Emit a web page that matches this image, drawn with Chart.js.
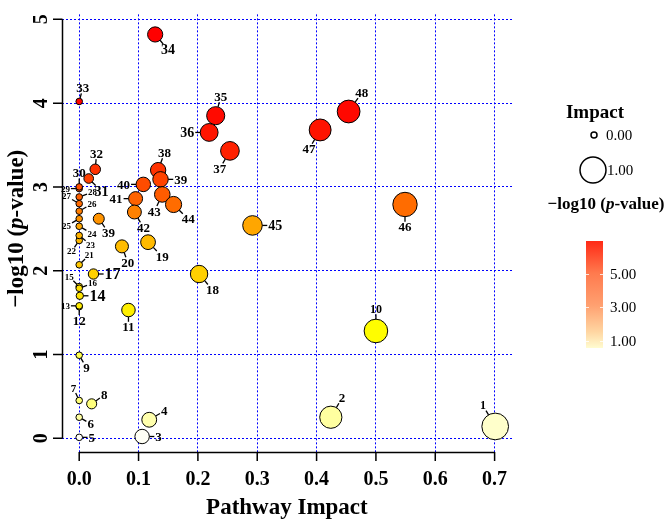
<!DOCTYPE html>
<html>
<head>
<meta charset="utf-8">
<script src="https://cdn.jsdelivr.net/npm/chart.js@4.4.1/dist/chart.umd.min.js"></script>
<style>
  html, body { margin: 0; padding: 0; background: #fff; }
</style>
</head>
<body>
<canvas id="myChart" width="664" height="521"></canvas>
<script>
// pathway labels, impact (x) and -log10 p (y)
const pathwayLabels = ['1','2','3','4','5','6','7','8','9','10','11','12','13','14','15','16','17','18','19','20',
  '21','22','23','24','25','26','27','28','29','30','31','32','33','34','35','36','37','38','39','39',
  '40','41','42','43','44','45','46','47','48'];
const impact = [0.701, 0.424, 0.106, 0.118, 0.000, 0.000, 0.000, 0.021, 0.000, 0.500,
  0.083, 0.000, 0.000, 0.001, 0.000, 0.000, 0.024, 0.202, 0.116, 0.072,
  0.000, 0.000, 0.000, 0.000, 0.000, 0.000, 0.000, 0.000, 0.000, 0.000,
  0.016, 0.027, 0.000, 0.128, 0.230, 0.219, 0.254, 0.133, 0.137, 0.033,
  0.108, 0.095, 0.093, 0.140, 0.159, 0.292, 0.549, 0.406, 0.454];
const logP = [0.14, 0.25, 0.02, 0.22, 0.01, 0.25, 0.45, 0.41, 0.99, 1.28,
  1.53, 1.57, 1.58, 1.70, 1.81, 1.79, 1.96, 1.96, 2.34, 2.29,
  2.07, 2.36, 2.42, 2.53, 2.62, 2.71, 2.80, 2.88, 2.98, 3.00,
  3.10, 3.21, 4.02, 4.82, 3.85, 3.65, 3.43, 3.20, 3.09, 2.62,
  3.03, 2.86, 2.70, 2.91, 2.79, 2.54, 2.79, 3.68, 3.90];
const xTicks = [0, 0.1, 0.2, 0.3, 0.4, 0.5, 0.6, 0.7];
const yTicks = [0, 1, 2, 3, 4, 5];
const colorBarTicks = [1, 3, 5];
const sizeLegend = [0, 1];

// where each label sits around its bubble (degrees, 0 = right, 90 = down)
const labelAngle = [-120, -60, 0, -30, 0, 30, -115, -35, 60, -90,
  90, 90, 180, 0, -135, -20, 0, 50, 45, 70,
  -45, 125, 40, 30, 150, -30, -150, -20, 180, -90,
  45, -85, -75, 50, -75, 180, 120, -70, 0, 55,
  180, 180, 60, 115, 45, 0, 90, 120, -55];
const smallLabels = ['13','15','16','21','22','23','24','25','26','27','28','29'];
const bigLabels = { '14': 16, '17': 16, '31': 14, '34': 14, '36': 14, '45': 14, '1': 12, '7': 11, '10': 12 };

const SERIF = '"Liberation Serif", "Times New Roman", serif';

// colour by -log10 p (heat style)
const heatStops = [
  [0.00, [255, 255, 252]], [0.15, [255, 255, 200]], [0.30, [255, 255, 140]], [0.50, [255, 255, 110]],
  [1.00, [255, 255, 80]], [1.25, [255, 255, 0]], [1.55, [255, 238, 0]], [1.80, [255, 222, 0]],
  [2.00, [255, 204, 0]], [2.35, [255, 185, 0]], [2.55, [255, 165, 0]], [2.65, [255, 140, 0]],
  [2.80, [255, 106, 0]], [3.00, [255, 80, 0]], [3.20, [255, 50, 0]], [3.50, [255, 28, 0]],
  [3.90, [255, 8, 0]], [4.20, [255, 0, 0]]
];
function heat(v) {
  if (v <= heatStops[0][0]) return `rgb(${heatStops[0][1].join(',')})`;
  for (let i = 1; i < heatStops.length; i++) {
    const [v1, c1] = heatStops[i];
    const [v0, c0] = heatStops[i - 1];
    if (v <= v1) {
      const t = (v - v0) / (v1 - v0);
      const c = c0.map((a, k) => Math.round(a + (c1[k] - a) * t));
      return `rgb(${c.join(',')})`;
    }
  }
  return 'rgb(255,0,0)';
}
// radius by impact
const sizeOf = (v) => 3.3 + 12 * Math.sqrt(v);

// draw runs of text with mixed fonts, centred on (0,0) of the current transform
function mixedText(ctx, runs, x, y) {
  let total = 0;
  runs.forEach(r => { ctx.font = r.font; total += ctx.measureText(r.text).width; });
  let cur = x - total / 2;
  ctx.textAlign = 'left';
  runs.forEach(r => { ctx.font = r.font; ctx.fillText(r.text, cur, y); cur += ctx.measureText(r.text).width; });
}
const titleRuns = (size) => [
  { text: '\u2212log10 (', font: `bold ${size}px ${SERIF}` },
  { text: 'p', font: `italic bold ${size}px ${SERIF}` },
  { text: '-value)', font: `bold ${size}px ${SERIF}` }
];

const decorations = {
  id: 'decorations',
  afterDatasetsDraw(chart) {
    const { ctx, scales: { x, y } } = chart;
    const meta = chart.getDatasetMeta(0);
    ctx.save();
    ctx.strokeStyle = '#000';
    ctx.fillStyle = '#000';
    ctx.lineWidth = 1.3;
    meta.data.forEach((pt, i) => {
      const txt = pathwayLabels[i];
      const size = smallLabels.includes(txt) ? 9 : (bigLabels[txt] || 13);
      const r = sizeOf(impact[i]);
      const a = labelAngle[i] * Math.PI / 180;
      const ux = Math.cos(a), uy = Math.sin(a);
      const x1 = pt.x + ux * r, y1 = pt.y + uy * r;
      const x2 = pt.x + ux * (r + 5), y2 = pt.y + uy * (r + 5);
      ctx.beginPath(); ctx.moveTo(x1, y1); ctx.lineTo(x2, y2); ctx.stroke();
      ctx.font = `bold ${size}px ${SERIF}`;
      const hw = ctx.measureText(txt).width / 2 + 1, hh = size * 0.34 + 1;
      const t = 1 / Math.max(Math.abs(ux) / hw, Math.abs(uy) / hh);
      ctx.textAlign = 'center';
      ctx.textBaseline = 'alphabetic';
      ctx.fillText(txt, x2 + ux * t, y2 + uy * t + size * 0.33);
    });
    ctx.restore();
  },
  afterDraw(chart) {
    const { ctx, scales: { x, y } } = chart;
    const bottom = chart.chartArea.bottom;
    const left = chart.chartArea.left;
    ctx.save();
    ctx.strokeStyle = '#000';
    ctx.fillStyle = '#000';
    ctx.lineWidth = 1.5;

    // y axis
    ctx.beginPath();
    ctx.moveTo(left + 0.5, y.getPixelForValue(yTicks[0]));
    ctx.lineTo(left + 0.5, y.getPixelForValue(yTicks[yTicks.length - 1]));
    yTicks.forEach(v => {
      const py = y.getPixelForValue(v);
      ctx.moveTo(left - 9, py); ctx.lineTo(left + 0.5, py);
    });
    ctx.stroke();
    ctx.font = `bold 20px ${SERIF}`;
    ctx.textAlign = 'center';
    ctx.textBaseline = 'middle';
    yTicks.forEach(v => {
      ctx.save();
      ctx.translate(41, y.getPixelForValue(v));
      ctx.rotate(-Math.PI / 2);
      ctx.fillText(String(v), 0, 1);
      ctx.restore();
    });

    // x axis
    ctx.beginPath();
    ctx.moveTo(x.getPixelForValue(xTicks[0]), bottom + 0.5);
    ctx.lineTo(x.getPixelForValue(xTicks[xTicks.length - 1]), bottom + 0.5);
    xTicks.forEach(v => {
      const px = x.getPixelForValue(v);
      ctx.moveTo(px, bottom); ctx.lineTo(px, bottom + 9);
    });
    ctx.stroke();
    ctx.textBaseline = 'alphabetic';
    xTicks.forEach(v => ctx.fillText(v.toFixed(1), x.getPixelForValue(v), 485));

    // axis titles
    ctx.font = `bold 23px ${SERIF}`;
    const midX = (x.getPixelForValue(xTicks[0]) + x.getPixelForValue(xTicks[xTicks.length - 1])) / 2;
    ctx.fillText('Pathway Impact', midX, 514);
    ctx.save();
    ctx.translate(17, (y.getPixelForValue(yTicks[0]) + y.getPixelForValue(yTicks[yTicks.length - 1])) / 2);
    ctx.rotate(-Math.PI / 2);
    ctx.textBaseline = 'middle';
    mixedText(ctx, titleRuns(23), 0, 0);
    ctx.restore();

    // size legend
    ctx.textAlign = 'center';
    ctx.textBaseline = 'middle';
    ctx.font = `bold 19px ${SERIF}`;
    ctx.fillText('Impact', 595, 113);
    ctx.lineWidth = 1.5;
    const legY = [135, 170];
    sizeLegend.forEach((v, i) => {
      const r = v === 0 ? 3 : 13;
      const cx = 594 - (v === 0 ? 0 : 1);
      ctx.beginPath();
      ctx.arc(cx, legY[i], r, 0, Math.PI * 2);
      ctx.fillStyle = '#fff'; ctx.fill();
      ctx.stroke();
      ctx.fillStyle = '#000';
      ctx.font = `15px ${SERIF}`;
      ctx.textAlign = 'left';
      ctx.fillText(v.toFixed(2), v === 0 ? 606 : 607, legY[i] + 1);
      ctx.textAlign = 'center';
    });

    // colour legend
    ctx.textBaseline = 'middle';
    mixedText(ctx, titleRuns(17), 606, 205);
    const barTop = 241, barBot = 348, barL = 586, barR = 603;
    const barMin = 0.56, barMax = 6.98;
    const g = ctx.createLinearGradient(0, barTop, 0, barBot);
    g.addColorStop(0, '#ff2a16');
    g.addColorStop(0.3, '#ff7a4e');
    g.addColorStop(0.6, '#ffa070');
    g.addColorStop(0.85, '#ffd6a2');
    g.addColorStop(1, '#fffcd0');
    ctx.fillStyle = g;
    ctx.fillRect(barL, barTop, barR - barL, barBot - barTop);
    const barPix = v => barBot - (v - barMin) / (barMax - barMin) * (barBot - barTop);
    ctx.strokeStyle = 'rgba(255,255,255,0.8)';
    ctx.lineWidth = 1;
    ctx.fillStyle = '#000';
    ctx.font = `15px ${SERIF}`;
    ctx.textAlign = 'left';
    colorBarTicks.forEach(v => {
      const py = Math.round(barPix(v)) + 0.5;
      ctx.beginPath();
      ctx.moveTo(barL, py); ctx.lineTo(barL + 3, py);
      ctx.moveTo(barR - 3, py); ctx.lineTo(barR, py);
      ctx.stroke();
      ctx.fillText(v.toFixed(2), 610, py + 1);
    });
    ctx.restore();
  }
};

const data = {
  datasets: [{
    label: 'Pathways',
    data: impact.map((v, i) => ({ x: v, y: logP[i], r: sizeOf(v) })),
    backgroundColor: logP.map(heat),
    borderColor: '#000',
    borderWidth: 1,
    hoverBorderWidth: 1,
    clip: false
  }]
};

const gridOpts = { color: '#0000ff', lineWidth: 1, drawTicks: false };
const config = {
  type: 'bubble',
  data,
  options: {
    responsive: false,
    animation: false,
    events: [],
    layout: { padding: { left: 62, right: 151, top: 0, bottom: 69 } },
    plugins: { legend: { display: false }, tooltip: { enabled: false } },
    scales: {
      x: {
        type: 'linear', min: -0.029, max: 0.731,
        afterBuildTicks: s => { s.ticks = xTicks.map(v => ({ value: v })); },
        ticks: { display: false },
        grid: gridOpts,
        border: { display: false, dash: [2, 2] }
      },
      y: {
        type: 'linear', min: -0.165, max: 5.06,
        afterBuildTicks: s => { s.ticks = yTicks.map(v => ({ value: v })); },
        ticks: { display: false },
        grid: gridOpts,
        border: { display: false, dash: [2, 2] }
      }
    }
  },
  plugins: [decorations]
};

const myChart = new Chart(document.getElementById('myChart'), config);
</script>
</body>
</html>
